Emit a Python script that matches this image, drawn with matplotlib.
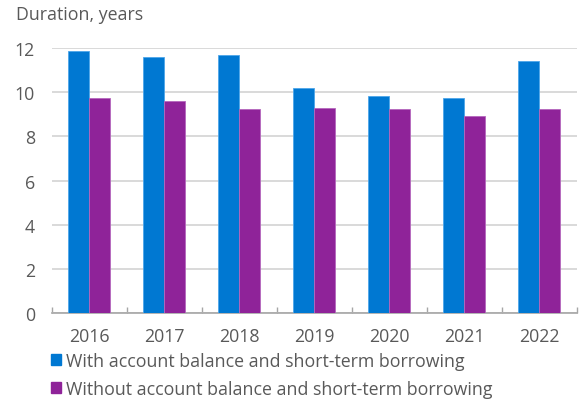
import numpy as np
import matplotlib
matplotlib.use("Agg")
import matplotlib.pyplot as plt
from matplotlib.patches import Patch

years = ["2016", "2017", "2018", "2019", "2020", "2021", "2022"]
with_balance = [11.86, 11.58, 11.70, 10.18, 9.82, 9.73, 11.42]
without_balance = [9.75, 9.59, 9.23, 9.27, 9.23, 8.91, 9.24]

label_with = "With account balance and short-term borrowing"
label_without = "Without account balance and short-term borrowing"

blue = "#0078D2"
purple = "#8F2399"
grey_text = "#595959"
fs = 12.8

plt.rcParams["font.family"] = ["Open Sans", "DejaVu Sans"]

fig = plt.figure(figsize=(5.79, 4.02), dpi=100)
ax = fig.add_axes([51.7 / 579, 1 - 314.3 / 402, (577 - 51.7) / 579, (314.3 - 49) / 402])

x = np.arange(len(years))
w = 0.28
ax.bar(x - w / 2, with_balance, w, color=blue, edgecolor="#4da6ea", linewidth=0.6, zorder=3)
ax.bar(x + w / 2, without_balance, w, color=purple, edgecolor="#b567bd", linewidth=0.6, zorder=3)

ax.set_xlim(-0.5, len(years) - 0.5)
ax.set_ylim(0, 12)
ax.set_yticks(range(0, 13, 2))
ax.yaxis.grid(True, color="#d9d9d9", linewidth=1.4, zorder=0)
ax.set_axisbelow(True)

ax.set_xticks(np.arange(-0.5, len(years), 1))
ax.set_xticklabels([])
ax.set_xticks(x, minor=True)
ax.set_xticklabels(years, minor=True)
ax.tick_params(axis="x", which="major", direction="in", length=4.5, color="#a6a6a6", width=1)
ax.tick_params(axis="x", which="minor", length=0, pad=10, labelsize=fs, labelcolor=grey_text)
ax.tick_params(axis="y", length=0, pad=12, labelsize=fs, labelcolor=grey_text)

for s in ["top", "right", "left"]:
    ax.spines[s].set_visible(False)
ax.spines["bottom"].set_color("#a6a6a6")
ax.spines["bottom"].set_linewidth(1.2)

fig.text(16 / 579, 1 - 15 / 402, "Duration, years", fontsize=fs, color=grey_text, va="center", ha="left")

handles = [Patch(color=blue), Patch(color=purple)]
fig.legend(handles, [label_with, label_without], loc="upper left",
           bbox_to_anchor=(51 / 579, 1 - 353 / 402), frameon=False,
           fontsize=fs, labelcolor=grey_text, handlelength=0.56, handleheight=0.56,
           handletextpad=0.26, labelspacing=0.55, borderaxespad=0, borderpad=0)

fig.savefig("out.png", dpi=100)
